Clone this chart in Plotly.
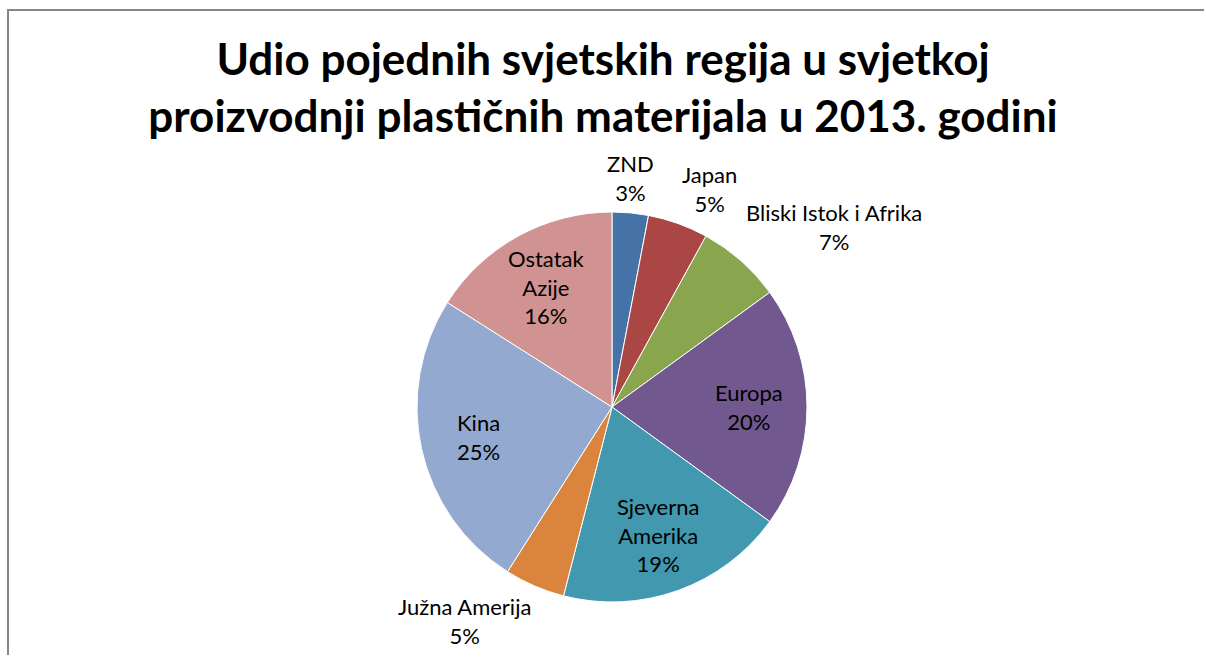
import math
import plotly.graph_objects as go

regions = ["ZND", "Japan", "Bliski Istok i Afrika", "Europa", "Sjeverna Amerika",
           "Južna Amerija", "Kina", "Ostatak Azije"]
display_labels = ["ZND", "Japan", "Bliski Istok i Afrika", "Europa", "Sjeverna<br>Amerika",
                  "Južna Amerija", "Kina", "Ostatak<br>Azije"]
shares = [3, 5, 7, 20, 19, 5, 25, 16]
colors = ["#4572A7", "#AA4643", "#89A54E", "#71588F", "#4198AF", "#DB843D", "#93A9CF", "#D19392"]

title_text = "Udio pojednih svjetskih regija u svjetkoj<br>proizvodnji plastičnih materijala u 2013. godini"

FONT = "Lato, Carlito, Calibri, sans-serif"
W, H = 1206, 657
cx, cy, r = 612, 407, 195  # pie centre and radius in pixels

fig = go.Figure(go.Pie(
    labels=regions,
    values=shares,
    textinfo="none",
    sort=False,
    direction="clockwise",
    rotation=0,
    marker=dict(colors=colors, line=dict(color="white", width=1)),
    domain=dict(x=[(cx - r) / W, (cx + r) / W], y=[1 - (cy + r) / H, 1 - (cy - r) / H]),
    showlegend=False,
    hoverinfo="label+percent",
))

# data labels placed from the slice geometry (mid-angle of each slice)
total = sum(shares)
annotations = []
cum = 0.0
for lab, v in zip(display_labels, shares):
    frac = v / total
    theta = 2 * math.pi * (cum + frac / 2)
    cum += frac
    s, c = math.sin(theta), math.cos(theta)
    txt = f"{lab}<br>{round(frac * 100)}%"
    if v < 10:
        d = r + 5
        px, py = cx + d * s, cy - d * c
        xa = "center" if abs(s) < 0.2 else ("left" if s > 0 else "right")
        ya = "bottom" if c > 0 else "top"
    else:
        d = 0.7 * r
        px, py = cx + d * s, cy - d * c
        xa, ya = "center", "middle"
    annotations.append(dict(
        text=txt, x=px / W, y=1 - py / H, xref="paper", yref="paper",
        xanchor=xa, yanchor=ya, showarrow=False, align="center",
        font=dict(family=FONT, size=22, color="black"),
    ))

frame = dict(color="#868686", width=2)
fig.update_layout(
    width=W, height=H,
    margin=dict(l=0, r=0, t=0, b=0),
    paper_bgcolor="white",
    title=dict(text=title_text, x=0.5, xanchor="center", y=1 - 75 / H, yanchor="middle",
               font=dict(family=FONT, size=44, color="black", weight="bold")),
    annotations=annotations,
    shapes=[
        dict(type="path", xref="paper", yref="paper",
             path=f"M {8 / W},{2 / H} L {8 / W},{1 - 10 / H} L {1 - 2 / W},{1 - 10 / H}",
             line=frame, layer="above"),
    ],
)

fig.write_html("out.html",
               config={"displayModeBar": False},
               post_script="document.documentElement.style.overflow='hidden';document.body.style.margin='0';document.body.style.overflow='hidden';")
